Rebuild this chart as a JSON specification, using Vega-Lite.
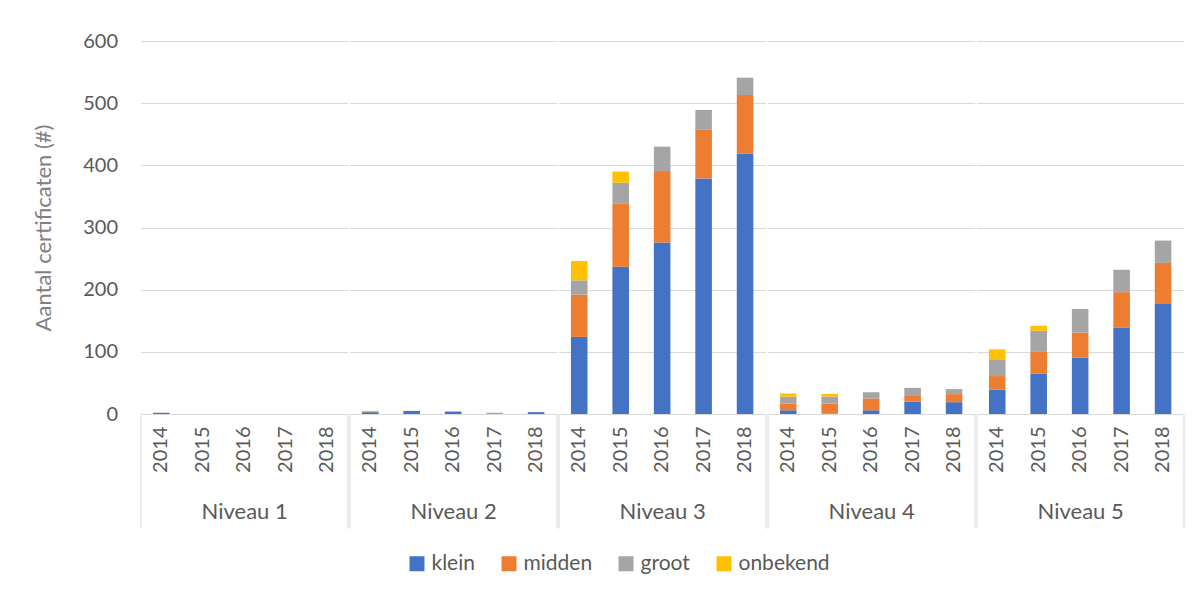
{
  "$schema": "https://vega.github.io/schema/vega-lite/v6.json",
  "background": "white",
  "padding": {"left": 32.5, "top": 31, "right": 0, "bottom": 0},
  "data": {"values": [
    {"niveau": "Niveau 1", "jaar": "2014", "grootte": "klein", "k": 1, "n": 2},
    {"niveau": "Niveau 2", "jaar": "2014", "grootte": "klein", "k": 1, "n": 3},
    {"niveau": "Niveau 2", "jaar": "2014", "grootte": "onbekend", "k": 4, "n": 2},
    {"niveau": "Niveau 2", "jaar": "2015", "grootte": "klein", "k": 1, "n": 5},
    {"niveau": "Niveau 2", "jaar": "2016", "grootte": "klein", "k": 1, "n": 4},
    {"niveau": "Niveau 2", "jaar": "2017", "grootte": "groot", "k": 3, "n": 2},
    {"niveau": "Niveau 2", "jaar": "2018", "grootte": "klein", "k": 1, "n": 3},
    {"niveau": "Niveau 3", "jaar": "2014", "grootte": "klein", "k": 1, "n": 124},
    {"niveau": "Niveau 3", "jaar": "2014", "grootte": "midden", "k": 2, "n": 68},
    {"niveau": "Niveau 3", "jaar": "2014", "grootte": "groot", "k": 3, "n": 23},
    {"niveau": "Niveau 3", "jaar": "2014", "grootte": "onbekend", "k": 4, "n": 31},
    {"niveau": "Niveau 3", "jaar": "2015", "grootte": "klein", "k": 1, "n": 237},
    {"niveau": "Niveau 3", "jaar": "2015", "grootte": "midden", "k": 2, "n": 101},
    {"niveau": "Niveau 3", "jaar": "2015", "grootte": "groot", "k": 3, "n": 34},
    {"niveau": "Niveau 3", "jaar": "2015", "grootte": "onbekend", "k": 4, "n": 18},
    {"niveau": "Niveau 3", "jaar": "2016", "grootte": "klein", "k": 1, "n": 276},
    {"niveau": "Niveau 3", "jaar": "2016", "grootte": "midden", "k": 2, "n": 115},
    {"niveau": "Niveau 3", "jaar": "2016", "grootte": "groot", "k": 3, "n": 39},
    {"niveau": "Niveau 3", "jaar": "2017", "grootte": "klein", "k": 1, "n": 379},
    {"niveau": "Niveau 3", "jaar": "2017", "grootte": "midden", "k": 2, "n": 78},
    {"niveau": "Niveau 3", "jaar": "2017", "grootte": "groot", "k": 3, "n": 32},
    {"niveau": "Niveau 3", "jaar": "2018", "grootte": "klein", "k": 1, "n": 419},
    {"niveau": "Niveau 3", "jaar": "2018", "grootte": "midden", "k": 2, "n": 94},
    {"niveau": "Niveau 3", "jaar": "2018", "grootte": "groot", "k": 3, "n": 28},
    {"niveau": "Niveau 4", "jaar": "2014", "grootte": "klein", "k": 1, "n": 6},
    {"niveau": "Niveau 4", "jaar": "2014", "grootte": "midden", "k": 2, "n": 11},
    {"niveau": "Niveau 4", "jaar": "2014", "grootte": "groot", "k": 3, "n": 11},
    {"niveau": "Niveau 4", "jaar": "2014", "grootte": "onbekend", "k": 4, "n": 5},
    {"niveau": "Niveau 4", "jaar": "2015", "grootte": "klein", "k": 1, "n": 1},
    {"niveau": "Niveau 4", "jaar": "2015", "grootte": "midden", "k": 2, "n": 16},
    {"niveau": "Niveau 4", "jaar": "2015", "grootte": "groot", "k": 3, "n": 11},
    {"niveau": "Niveau 4", "jaar": "2015", "grootte": "onbekend", "k": 4, "n": 4},
    {"niveau": "Niveau 4", "jaar": "2016", "grootte": "klein", "k": 1, "n": 6},
    {"niveau": "Niveau 4", "jaar": "2016", "grootte": "midden", "k": 2, "n": 19},
    {"niveau": "Niveau 4", "jaar": "2016", "grootte": "groot", "k": 3, "n": 10},
    {"niveau": "Niveau 4", "jaar": "2017", "grootte": "klein", "k": 1, "n": 20},
    {"niveau": "Niveau 4", "jaar": "2017", "grootte": "midden", "k": 2, "n": 9},
    {"niveau": "Niveau 4", "jaar": "2017", "grootte": "groot", "k": 3, "n": 13},
    {"niveau": "Niveau 4", "jaar": "2018", "grootte": "klein", "k": 1, "n": 19},
    {"niveau": "Niveau 4", "jaar": "2018", "grootte": "midden", "k": 2, "n": 13},
    {"niveau": "Niveau 4", "jaar": "2018", "grootte": "groot", "k": 3, "n": 8},
    {"niveau": "Niveau 5", "jaar": "2014", "grootte": "klein", "k": 1, "n": 39},
    {"niveau": "Niveau 5", "jaar": "2014", "grootte": "midden", "k": 2, "n": 22},
    {"niveau": "Niveau 5", "jaar": "2014", "grootte": "groot", "k": 3, "n": 27},
    {"niveau": "Niveau 5", "jaar": "2014", "grootte": "onbekend", "k": 4, "n": 16},
    {"niveau": "Niveau 5", "jaar": "2015", "grootte": "klein", "k": 1, "n": 65},
    {"niveau": "Niveau 5", "jaar": "2015", "grootte": "midden", "k": 2, "n": 36},
    {"niveau": "Niveau 5", "jaar": "2015", "grootte": "groot", "k": 3, "n": 33},
    {"niveau": "Niveau 5", "jaar": "2015", "grootte": "onbekend", "k": 4, "n": 8},
    {"niveau": "Niveau 5", "jaar": "2016", "grootte": "klein", "k": 1, "n": 91},
    {"niveau": "Niveau 5", "jaar": "2016", "grootte": "midden", "k": 2, "n": 40},
    {"niveau": "Niveau 5", "jaar": "2016", "grootte": "groot", "k": 3, "n": 38},
    {"niveau": "Niveau 5", "jaar": "2017", "grootte": "klein", "k": 1, "n": 139},
    {"niveau": "Niveau 5", "jaar": "2017", "grootte": "midden", "k": 2, "n": 57},
    {"niveau": "Niveau 5", "jaar": "2017", "grootte": "groot", "k": 3, "n": 36},
    {"niveau": "Niveau 5", "jaar": "2018", "grootte": "klein", "k": 1, "n": 177},
    {"niveau": "Niveau 5", "jaar": "2018", "grootte": "midden", "k": 2, "n": 66},
    {"niveau": "Niveau 5", "jaar": "2018", "grootte": "groot", "k": 3, "n": 36}
  ]},
  "facet": {"column": {"field": "niveau", "type": "nominal", "header": {"labels": false, "title": null}}},
  "spacing": 0,
  "resolve": {"scale": {"x": "independent"}},
  "spec": {
    "width": 207.3,
    "height": 373,
    "layer": [
      {
        "mark": {"type": "bar"},
        "encoding": {
          "x": {"field": "jaar", "type": "ordinal",
            "scale": {"domain": ["2014", "2015", "2016", "2017", "2018"], "paddingInner": 0.6, "paddingOuter": 0.3},
            "axis": {"title": null, "labelAngle": 270, "ticks": false, "domainColor": "#d9d9d9", "labelPadding": 12, "labelFontSize": 20, "labelColor": "#595959", "labelFont": "Lato"}},
          "y": {"field": "n", "type": "quantitative", "stack": "zero",
            "scale": {"domain": [0, 600], "nice": false},
            "axis": {"title": "Aantal certificaten (#)", "values": [0, 100, 200, 300, 400, 500, 600], "grid": true, "gridColor": "#d9d9d9", "domain": false, "ticks": false, "labelPadding": 22, "labelFontSize": 20, "labelColor": "#595959", "labelFont": "Lato", "titleFont": "Lato", "titleFontSize": 22, "titleFontWeight": "normal", "titleColor": "#808080", "titlePadding": 27}},
          "color": {"field": "grootte", "type": "nominal",
            "scale": {"domain": ["klein", "midden", "groot", "onbekend"], "range": ["#4472C4", "#ED7D31", "#A5A5A5", "#FFC000"]},
            "legend": {"orient": "none", "legendX": 266, "legendY": 512, "title": null, "direction": "horizontal", "symbolType": "square", "symbolSize": 225, "symbolStrokeWidth": 0, "labelFontSize": 21, "labelFont": "Lato", "labelColor": "#595959", "columnPadding": 23, "labelOffset": 4}},
          "order": {"field": "k", "type": "quantitative"}
        }
      },
      {
        "mark": {"type": "rule", "opacity": 0},
        "encoding": {
          "x": {"field": "niveau", "type": "nominal",
            "scale": {"type": "band", "paddingInner": 0, "paddingOuter": 0},
            "axis": {"orient": "bottom", "title": null, "tickBand": "extent", "tickSize": 114, "tickColor": "#d9d9d9", "domain": false, "labelPadding": -27, "labelAngle": 0, "labelFontSize": 22, "labelFont": "Lato", "labelColor": "#595959"}}
        }
      }
    ],
    "resolve": {"scale": {"x": "independent"}}
  },
  "config": {"view": {"stroke": null}}
}
